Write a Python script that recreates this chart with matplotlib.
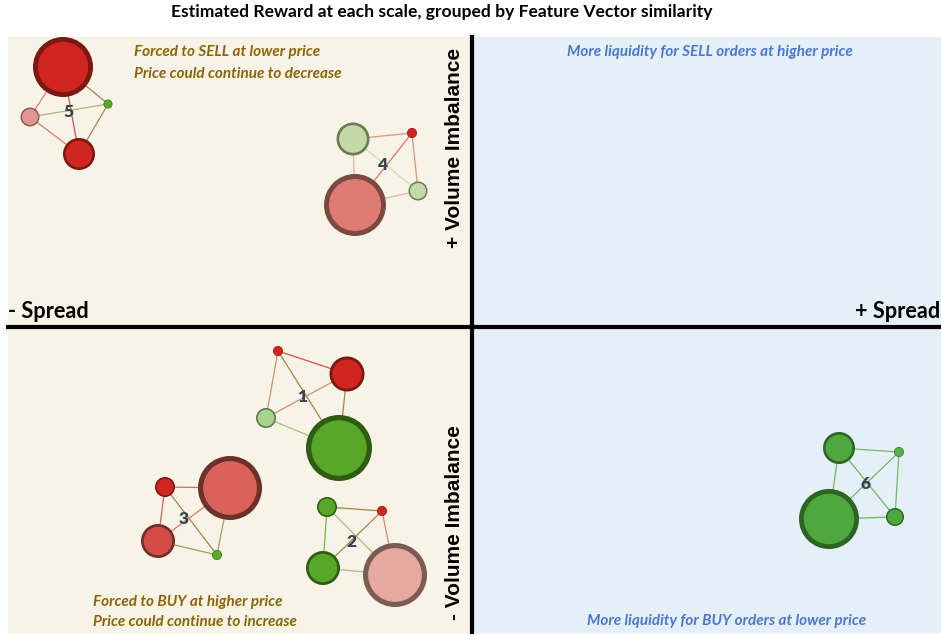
# -*- coding: utf-8 -*-

import numpy as np
import matplotlib.pyplot as plt
from matplotlib.patches import Circle, Rectangle
from matplotlib.colors import to_rgb

# 节点数据: 每个簇 4 个节点 (中心, 半径, 填充色, 边框色)
cluster = [5, 5, 5, 5, 4, 4, 4, 4, 1, 1, 1, 1, 3, 3, 3, 3, 2, 2, 2, 2, 6, 6, 6, 6]
node_x = [63, 30, 108, 79, 353, 412, 418, 355, 278, 347, 266, 339,
          165, 230, 158, 217, 327, 382, 323, 395, 839, 899, 829, 895]
node_y = [67, 117, 104, 154, 139, 133, 191, 205, 351, 374, 418, 448,
          487, 488, 541, 555, 507, 511, 568, 575, 448, 452, 519, 517]
node_r = [30, 9.5, 4.5, 16, 16.5, 5, 9.5, 31, 5, 17.5, 10, 33,
          10, 32, 17, 5, 10, 5, 17, 32, 16, 5, 30, 9]
node_fill = ['#D02520', '#E0958E', '#5AAA30', '#D02520',
             '#C3DAA8', '#D02520', '#C3DAA8', '#E07B74',
             '#D02520', '#D02520', '#A9D18E', '#57A826',
             '#D02520', '#DA625B', '#D34C46', '#5AAA30',
             '#57A826', '#D02520', '#57A826', '#E5A99F',
             '#4FA83D', '#5AB04A', '#4FA83D', '#4FA83D']
node_edge = ['#7A1812', '#8C5E58', '#3F7A22', '#7A1812',
             '#6B7A58', '#9A1A15', '#6B7A58', '#7A4A42',
             '#9A1A15', '#7A1812', '#5E7452', '#2F5B12',
             '#7A1812', '#6E3129', '#6E3129', '#3F7A22',
             '#2F5B12', '#9A1A15', '#2F5B12', '#7B5C52',
             '#2C6422', '#3F7A22', '#2C6422', '#2C6422']

label_id = [5, 4, 1, 3, 2, 6]
label_x = [68, 382, 302, 184, 352, 866]
label_y = [112, 165, 397, 519, 542, 484]

cream = '#F7F3E6'
blue = '#E5EFF8'

fig = plt.figure(figsize=(9.41, 6.35), dpi=100)
ax = fig.add_axes([0, 0, 1, 1])
ax.set_xlim(0, 941)
ax.set_ylim(635, 0)
ax.axis('off')

# 背景象限
ax.add_patch(Rectangle((8, 37), 464, 595, color=cream, zorder=0))
ax.add_patch(Rectangle((472, 37), 469, 595, color=blue, zorder=0))
ax.plot([472, 472], [37, 632], color='black', lw=3, zorder=1)
ax.plot([8, 941], [327, 327], color='black', lw=3, zorder=1)

cid = np.array(cluster)
for c in label_id:
    idx = np.where(cid == c)[0]
    bg = np.array(to_rgb(blue if c == 6 else cream))
    for a in range(len(idx)):
        for b in range(a + 1, len(idx)):
            i, j = idx[a], idx[b]
            col = (np.array(to_rgb(node_fill[i])) + np.array(to_rgb(node_fill[j]))) / 2
            col = col * 0.8 + bg * 0.2
            ax.plot([node_x[i], node_x[j]], [node_y[i], node_y[j]],
                    color=col, lw=0.9, zorder=2)

for i in range(len(node_x)):
    w = max(node_r[i] * 0.16, 0.8)
    ax.add_patch(Circle((node_x[i], node_y[i]), node_r[i] - w / 2,
                        facecolor=node_fill[i], edgecolor=node_edge[i],
                        lw=w * 0.72, zorder=3))

for k in range(len(label_id)):
    ax.text(label_x[k], label_y[k], str(label_id[k]), fontsize=12.5, weight='heavy',
            color='#3A4450', ha='center', va='center', family='Lato', zorder=4)

ax.text(442, 12, 'Estimated Reward at each scale, grouped by Feature Vector similarity',
        fontsize=12.6, weight='bold', ha='center', va='center', family='Lato')

gold = '#8B6508'
lblue = '#4A78D0'
fs = 11
ax.text(134, 52, 'Forced to SELL at lower price', fontsize=fs, weight='bold', style='italic',
        color=gold, ha='left', va='center', family='Lato')
ax.text(134, 74, 'Price could continue to decrease', fontsize=fs, weight='bold', style='italic',
        color=gold, ha='left', va='center', family='Lato')
ax.text(93, 602, 'Forced to BUY at higher price', fontsize=fs, weight='bold', style='italic',
        color=gold, ha='left', va='center', family='Lato')
ax.text(93, 622, 'Price could continue to increase', fontsize=fs, weight='bold', style='italic',
        color=gold, ha='left', va='center', family='Lato')
ax.text(710, 52, 'More liquidity for SELL orders at higher price', fontsize=fs, weight='bold',
        style='italic', color=lblue, ha='center', va='center', family='Lato')
ax.text(727, 621, 'More liquidity for BUY orders at lower price', fontsize=fs, weight='bold',
        style='italic', color=lblue, ha='center', va='center', family='Lato')

ax.text(8, 311, '- Spread', fontsize=15.7, weight='bold', ha='left', va='center', family='Lato')
ax.text(940, 311, '+ Spread', fontsize=15.7, weight='bold', ha='right', va='center', family='Lato')
ax.text(455, 148, '+ Volume Imbalance', fontsize=15, weight='bold', rotation=90,
        ha='center', va='center', family='Liberation Sans')
ax.text(455, 523, '- Volume Imbalance', fontsize=15, weight='bold', rotation=90,
        ha='center', va='center', family='Liberation Sans')

plt.savefig('out.png', dpi=100)
